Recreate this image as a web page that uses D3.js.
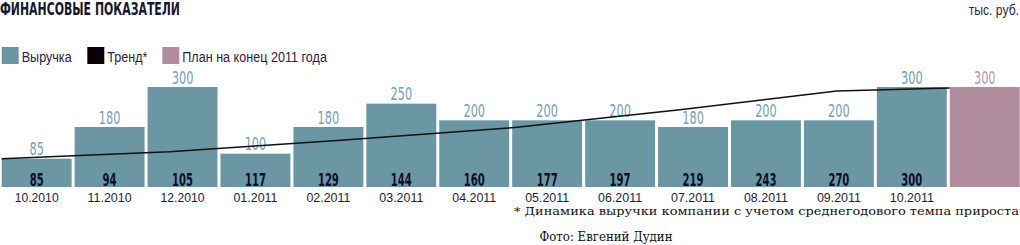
<!DOCTYPE html>
<html>
<head>
  <meta charset="utf-8">
  <title>Финансовые показатели</title>
  <script src="https://d3js.org/d3.v7.min.js"></script>
  <style>
    body { margin: 0; background: #fff; }
    svg { display: block; }
    .cond { font-family: "DejaVu Sans Condensed", "DejaVu Sans", sans-serif; }
    .sans { font-family: "Liberation Sans", Arial, sans-serif; }
    .serif { font-family: "DejaVu Serif", serif; }
  </style>
</head>
<body>
  <script>
    var months = ["10.2010", "11.2010", "12.2010", "01.2011", "02.2011", "03.2011", "04.2011",
                  "05.2011", "06.2011", "07.2011", "08.2011", "09.2011", "10.2011"];
    var revenue = [85, 180, 300, 100, 180, 250, 200, 200, 200, 180, 200, 200, 300];
    var trend = [85, 94, 105, 117, 129, 144, 160, 177, 197, 219, 243, 270, 300];
    var planValue = 300;
    // trend curve as drawn: position in bar slots, value
    var trendPos = [0, 2.3, 4.65, 7, 9.3, 11.45, 13];
    var trendVal = [85, 106, 140, 178, 232, 288, 297];
    var legendItems = ["Выручка", "Тренд*", "План на конец 2011 года"];

    var blue = "#6b97a5", plum = "#b08c9c", ink = "#1e1b3a";

    var W = 1020, H = 245;
    var svg = d3.select("body").append("svg")
        .attr("width", W)
        .attr("height", H);

    var slots = months.concat(["plan"]);
    var x = d3.scaleBand()
        .domain(slots)
        .range([1.7, 1019.7])
        .paddingInner(0.0412)
        .paddingOuter(0);

    var xi = d3.scaleLinear()
        .domain([0, slots.length])
        .range([1.7, 1.7 + slots.length * x.step()]);

    var y = d3.scaleLinear()
        .domain([0, 300])
        .range([187, 87]);

    // title
    svg.append("text")
        .attr("class", "cond")
        .attr("x", 0).attr("y", 15.3)
        .attr("font-size", 17.5)
        .attr("font-weight", "bold")
        .attr("fill", "#161630")
        .attr("textLength", 180)
        .attr("lengthAdjust", "spacingAndGlyphs")
        .text("ФИНАНСОВЫЕ ПОКАЗАТЕЛИ");

    svg.append("text")
        .attr("class", "sans")
        .attr("transform", "translate(1019,15) scale(0.84,1)")
        .attr("text-anchor", "end")
        .attr("font-size", 14.5)
        .attr("fill", "#2a2a3a")
        .text("тыс. руб.");

    // legend
    var legendX = [1.7, 87.3, 162.3];
    var legendC = [blue, "#0a0008", plum];
    var leg = svg.append("g").selectAll("g")
        .data(legendItems)
        .join("g")
        .attr("transform", (d, i) => "translate(" + legendX[i] + ",47)");
    leg.append("rect")
        .attr("width", 17).attr("height", 17)
        .attr("fill", (d, i) => legendC[i]);
    leg.append("text")
        .attr("class", "sans")
        .attr("transform", "translate(20,15.3) scale(0.84,1)")
        .attr("font-size", 15)
        .attr("fill", "#2e1a48")
        .text(d => d);

    // bars
    var bars = months.map((m, i) => ({key: m, value: revenue[i], trend: trend[i]}));

    svg.append("g").selectAll("rect")
        .data(bars)
        .join("rect")
        .attr("x", d => x(d.key))
        .attr("y", d => y(d.value))
        .attr("width", x.bandwidth())
        .attr("height", d => y(0) - y(d.value))
        .attr("fill", blue);

    svg.append("rect")
        .attr("x", x("plan"))
        .attr("y", y(planValue))
        .attr("width", x.bandwidth())
        .attr("height", y(0) - y(planValue))
        .attr("fill", plum);

    // value labels above bars
    svg.append("g").selectAll("text")
        .data(bars.concat([{key: "plan", value: planValue}]))
        .join("text")
        .attr("class", "cond")
        .attr("transform", d => "translate(" + (x(d.key) + x.bandwidth() / 2) + "," + (y(d.value) - 3.3) + ") scale(0.7,1)")
        .attr("text-anchor", "middle")
        .attr("font-size", 18)
        .attr("fill", d => d.key === "plan" ? "#b897a6" : "#72a0b8")
        .text(d => d.value);

    // trend values inside bars
    svg.append("g").selectAll("text")
        .data(bars)
        .join("text")
        .attr("class", "cond")
        .attr("transform", d => "translate(" + (x(d.key) + x.bandwidth() / 2) + "," + (y(0) - 0.8) + ") scale(0.62,1)")
        .attr("text-anchor", "middle")
        .attr("font-size", 18)
        .attr("font-weight", "bold")
        .attr("fill", "#0e0e26")
        .text(d => d.trend);

    // trend line
    var line = d3.line()
        .x(d => xi(d[0]))
        .y(d => y(d[1]));
    svg.append("path")
        .datum(trendPos.map((p, i) => [p, trendVal[i]]))
        .attr("d", line)
        .attr("fill", "none")
        .attr("stroke", "#111")
        .attr("stroke-width", 1.5);

    // month axis
    var xAxis = d3.axisBottom(x)
        .tickSize(0)
        .tickFormat(d => d === "plan" ? "" : d);
    var ax = svg.append("g")
        .attr("transform", "translate(0," + y(0) + ")")
        .call(xAxis);
    ax.select(".domain").remove();
    ax.selectAll("text")
        .attr("class", "sans")
        .attr("y", 14.8).attr("dy", 0)
        .attr("font-size", 12)
        .attr("textLength", 44)
        .attr("lengthAdjust", "spacingAndGlyphs")
        .attr("fill", ink);

    // footnotes
    svg.append("text")
        .attr("class", "serif")
        .attr("x", 514).attr("y", 214.5)
        .attr("font-size", 11.5)
        .attr("fill", "#111")
        .attr("textLength", 505)
        .attr("lengthAdjust", "spacingAndGlyphs")
        .text("* Динамика выручки компании с учетом среднегодового темпа прироста");

    svg.append("text")
        .attr("class", "serif")
        .attr("x", 539.5).attr("y", 240.5)
        .attr("font-size", 12)
        .attr("fill", "#111")
        .attr("textLength", 133)
        .attr("lengthAdjust", "spacingAndGlyphs")
        .text("Фото: Евгений Дудин");
  </script>
</body>
</html>
